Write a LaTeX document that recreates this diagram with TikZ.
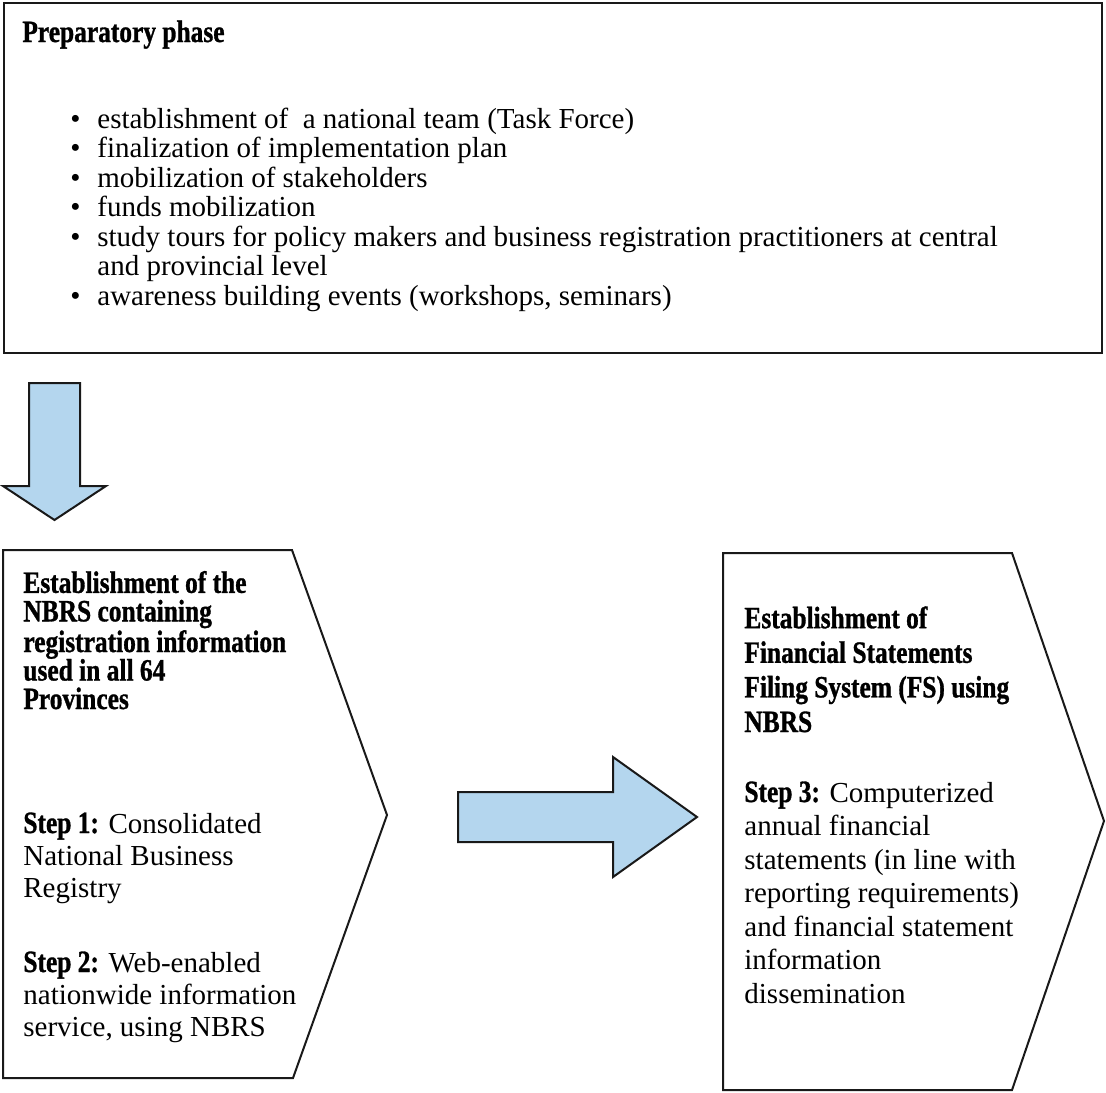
\documentclass[tikz,border=0pt]{standalone}
\usepackage{fontspec}
\setmainfont{Liberation Serif}
\newfontfamily\headfont[FakeStretch=0.82,FakeBold=1]{Liberation Serif}
\usetikzlibrary{positioning}
\definecolor{arrowblue}{RGB}{180,214,238}
\newcommand{\steplabel}[1]{{\headfont\bfseries\fontsize{15.5}{15.5}\selectfont Step #1:}}
\tikzset{
        panel/.style = {draw=black!90, line width=1pt},
        blockarrow/.style = {draw=black!90, line width=1pt, fill=arrowblue},
        headtext/.style = {anchor=base west, inner sep=0pt, align=left,
            font=\headfont\bfseries\fontsize{15.5}{14.25}\selectfont},
        bodytext/.style = {anchor=base west, inner sep=0pt, align=left,
            font=\fontsize{14.5}{16}\selectfont},
        dot/.style = {anchor=base west, inner sep=0pt, font=\fontsize{14.5}{16}\selectfont},
    }

\begin{document}
\begin{tikzpicture}[x=0.5pt, y=-0.5pt]
        \useasboundingbox (0,0) rectangle (1106,1092);

        % top panel, y of each node = baseline of its last line
        \node[panel, anchor=north west, inner sep=0pt,
            minimum width=549pt, minimum height=175pt] (prep) at (3,2) {};
        \node[headtext] (title) at (22,42) {Preparatory phase};

        \foreach \y/\z/\txt [count=\n] in {
                128/128/{establishment of\ \ a national team (Task Force)},
                157.5/157.5/{finalization of implementation plan},
                187/187/{mobilization of stakeholders},
                216.5/216.5/{funds mobilization},
                246/275.5/{study tours for policy makers and business registration practitioners at central\\and provincial level},
                305/305/{awareness building events (workshops, seminars)}} {
            \node[dot] (dot\n) at (70,\y) {\textbullet};
            \node[bodytext, font=\fontsize{14.5}{14.75}\selectfont] (item\n) at (97,\z) {\txt};
        }

        \draw[blockarrow] (29,383) -- (80,383) -- (80,486) -- (106,486)
            -- (54.5,520) -- (3,486) -- (29,486) -- cycle;

        \draw[panel] (3,550) -- (292,550) -- (387,815) -- (293,1078) -- (3,1078) -- cycle;
        \node[headtext] (nbrs) at (23,709) {Establishment of the\\NBRS containing\\registration information\\used in all 64\\Provinces};
        \node[bodytext] (step1) at (23,897) {\steplabel{1} Consolidated\\National Business\\Registry};
        \node[bodytext] (step2) at (23,1036) {\steplabel{2} Web-enabled\\nationwide information\\service, using NBRS};

        \draw[blockarrow] (458,792) -- (613,792) -- (613,757) -- (697,817)
            -- (613,877) -- (613,842) -- (458,842) -- cycle;

        \draw[panel] (723,553) -- (1012,553) -- (1104,821) -- (1012,1090) -- (723,1090) -- cycle;
        \node[headtext, font=\headfont\bfseries\fontsize{15.5}{17.3}\selectfont] (fs) at (744,732) {Establishment of\\Financial Statements\\Filing System (FS) using\\NBRS};
        \node[bodytext, font=\fontsize{14.5}{16.75}\selectfont] (step3) at (744,1003) {\steplabel{3} Computerized\\annual financial\\statements (in line with\\reporting requirements)\\and financial statement\\information\\dissemination};
\end{tikzpicture}
\end{document}
